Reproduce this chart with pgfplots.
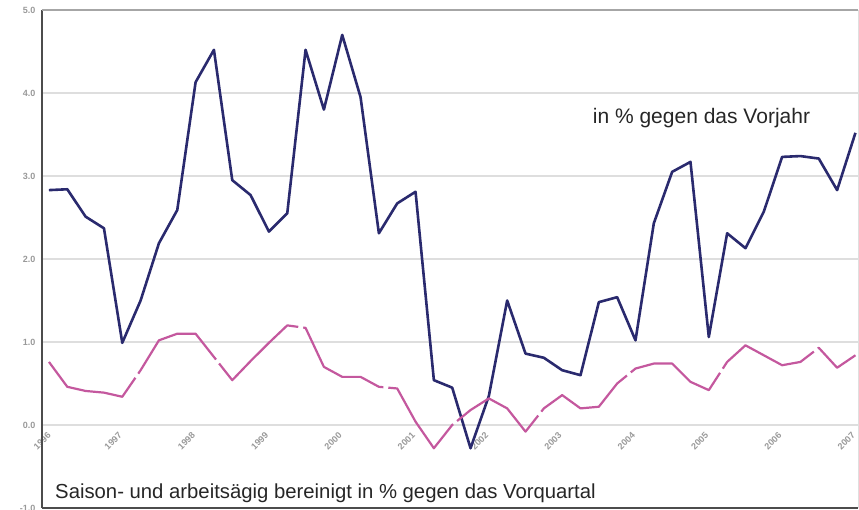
\documentclass[border=0pt]{standalone}
\usepackage{pgfplots}
\pgfplotsset{compat=1.18}
\usepackage{fontspec}
\setmainfont{Liberation Sans}
\definecolor{navy}{RGB}{42,42,110}
\definecolor{rose}{RGB}{196,88,158}
\definecolor{gridc}{RGB}{222,222,222}
\begin{document}
\begin{tikzpicture}
\useasboundingbox (0,0) rectangle (859pt,510pt);
\begin{axis}[
  at={(42pt,2pt)}, anchor=south west,
  scale only axis, width=816pt, height=498pt,
  xmin=-0.38, xmax=44.14, ymin=-1, ymax=5,
  ytick={-1,0,1,2,3,4,5},
  yticklabel style={font=\fontsize{9}{9}\selectfont\bfseries, text=gray!80, /pgf/number format/fixed, /pgf/number format/fixed zerofill, /pgf/number format/precision=1, xshift=-3pt},
  /pgf/number format/assume math mode=true,
  ymajorgrids, grid style={gridc, line width=1.6pt},
  xtick={-0.37,3.5,7.5,11.5,15.5,19.5,23.5,27.5,31.5,35.5,39.5,43.5},
  xticklabels={1996,1997,1998,1999,2000,2001,2002,2003,2004,2005,2006,2007},
  xticklabel style={font=\fontsize{9}{9}\selectfont\bfseries, text=gray!80, anchor=center, yshift=67pt, rotate=45},
  major tick length=0pt,
  axis line style={draw=none},
  clip=false,
]
\draw[gray!60!black, line width=2.5pt] (rel axis cs:0,0) -- (rel axis cs:0,1);
\draw[gray!70, line width=2.5pt] (rel axis cs:0,1) -- (rel axis cs:1,1);
\draw[gray!60!black, line width=2.5pt] (rel axis cs:0,0) -- (rel axis cs:1,0);
\draw[gray!25, line width=0.8pt] (rel axis cs:1,0) -- (rel axis cs:1,1);
\addplot[navy, line width=2.6pt, line join=round] table[x=i,y=v] {
i v
0 2.83
1 2.84
2 2.51
3 2.37
4 0.99
5 1.50
6 2.19
7 2.59
8 4.13
9 4.52
10 2.95
11 2.77
12 2.33
13 2.55
14 4.52
15 3.80
16 4.70
17 3.95
18 2.31
19 2.67
20 2.81
21 0.54
22 0.45
23 -0.28
24 0.35
25 1.50
26 0.86
27 0.81
28 0.66
29 0.60
30 1.48
31 1.54
32 1.02
33 2.43
34 3.05
35 3.17
36 1.06
37 2.31
38 2.13
39 2.57
40 3.23
41 3.24
42 3.21
43 2.83
44 3.52
};
\addplot[rose, line width=2.2pt, line join=round, dash pattern=on 110pt off 5pt] table[x=i,y=v] {
i v
0 0.76
1 0.46
2 0.41
3 0.39
4 0.34
5 0.66
6 1.02
7 1.10
8 1.10
9 0.82
10 0.54
11 0.77
12 0.99
13 1.20
14 1.17
15 0.70
16 0.58
17 0.58
18 0.46
19 0.44
20 0.04
21 -0.28
22 0.00
23 0.18
24 0.32
25 0.20
26 -0.08
27 0.20
28 0.36
29 0.20
30 0.22
31 0.50
32 0.68
33 0.74
34 0.74
35 0.52
36 0.42
37 0.76
38 0.96
39 0.84
40 0.72
41 0.76
42 0.93
43 0.69
44 0.84
};
\node[font=\fontsize{21}{21}\selectfont, text=black!85] at (axis cs:35.6,3.70) {in \% gegen das Vorjahr};
\node[font=\fontsize{20.3}{20.3}\selectfont, text=black!85, anchor=west, inner sep=0pt] at (axis cs:0.33,-0.82) {Saison- und arbeitsägig bereinigt in \% gegen das Vorquartal};
\end{axis}
\end{tikzpicture}
\end{document}
